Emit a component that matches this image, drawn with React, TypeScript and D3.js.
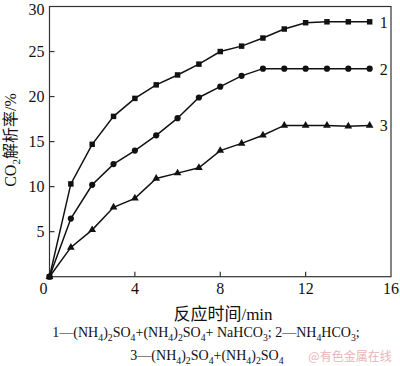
import * as d3 from 'd3';

const times = [0, 1, 2, 3, 4, 5, 6, 7, 8, 9, 10, 11, 12, 13, 14, 15];
const series1 = [0, 10.3, 14.7, 17.8, 19.8, 21.3, 22.4, 23.6, 25.0, 25.6, 26.5, 27.5, 28.2, 28.3, 28.3, 28.3];
const series2 = [0, 6.45, 10.2, 12.5, 14.0, 15.7, 17.6, 19.9, 21.1, 22.3, 23.1, 23.1, 23.1, 23.1, 23.1, 23.1];
const series3 = [0, 3.25, 5.2, 7.7, 8.7, 10.9, 11.5, 12.1, 14.0, 14.8, 15.7, 16.8, 16.8, 16.8, 16.7, 16.8];
const seriesNames = ['1', '2', '3'];
const xTicks = [4, 8, 12, 16];
const yTicks = [5, 10, 15, 20, 25, 30];
const caption1 = '1—(NH_4)_2SO_4+(NH_4)_2SO_4+ NaHCO_3; 2—NH_4HCO_3;';
const caption2 = '3—(NH_4)_2SO_4+(NH_4)_2SO_4';

const W = 400;
const H = 366;
const serif = '"Liberation Serif", "Times New Roman", "Noto Sans CJK SC", serif';

// turn "_4" into subscripted tspans
const withSubs = (s: string, size: number) => {
  const parts = s.split(/_(\d)/);
  const out: JSX.Element[] = [];
  let shifted = false;
  parts.forEach((p, i) => {
    if (i % 2 === 1) {
      out.push(
        <tspan key={i} fontSize={size * 0.7} dy={size * 0.25}>
          {p}
        </tspan>
      );
      shifted = true;
    } else if (p.length) {
      out.push(
        <tspan key={i} dy={shifted ? -size * 0.25 : 0}>
          {p}
        </tspan>
      );
      shifted = false;
    }
  });
  return out;
};

export default function App() {
  const x = d3.scaleLinear().domain([0, 16]).range([49.5, 391]);
  const y = d3.scaleLinear().domain([0, 30]).range([276.7, 6.5]);

  const all = [series1, series2, series3];
  const line = d3
    .line<number>()
    .x((_, i) => x(times[i]))
    .y((d) => y(d));

  const symbols = [
    d3.symbol().type(d3.symbolSquare).size(30)(),
    d3.symbol().type(d3.symbolCircle).size(30)(),
    d3.symbol().type(d3.symbolTriangle).size(26)(),
  ];

  return (
    <svg width={W} height={H} style={{ position: 'absolute', left: 0, top: 0, background: '#fff' }}>
      <rect x={0} y={0} width={W} height={H} fill="#fff" />
      {/* frame */}
      <rect
        x={x(0)}
        y={y(30)}
        width={x(16) - x(0)}
        height={y(0) - y(30)}
        fill="none"
        stroke="#333"
        strokeWidth={1.2}
      />
      {/* ticks */}
      {xTicks.slice(0, 3).map((t) => (
        <line key={t} x1={x(t)} x2={x(t)} y1={y(0)} y2={y(0) - 5} stroke="#333" strokeWidth={1.2} />
      ))}
      {yTicks.slice(0, 5).map((t) => (
        <line key={t} x1={x(0)} x2={x(0) + 5} y1={y(t)} y2={y(t)} stroke="#333" strokeWidth={1.2} />
      ))}
      {/* tick labels */}
      <g fontFamily={serif} fontSize={16} fill="#111">
        {xTicks.map((t) => (
          <text key={t} x={x(t)} y={y(0) + 17} textAnchor="middle">
            {t}
          </text>
        ))}
        <text x={x(0) - 6} y={y(0) + 17} textAnchor="middle">
          0
        </text>
        {yTicks.map((t) => (
          <text key={t} x={x(0) - 5} y={Math.max(y(t) + 5.5, 14.5)} textAnchor="end">
            {t}
          </text>
        ))}
      </g>
      {/* series */}
      {all.map((s, k) => (
        <g key={k}>
          <path d={line(s) || ''} fill="none" stroke="#111" strokeWidth={1.5} />
          {s.map((v, i) => (
            <path key={i} d={symbols[k] || ''} transform={`translate(${x(times[i])},${y(v)})`} fill="#111" />
          ))}
          <text
            x={x(15) + 10}
            y={y(s[s.length - 1]) + 6}
            fontFamily={serif}
            fontSize={16}
            fill="#111"
          >
            {seriesNames[k]}
          </text>
        </g>
      ))}
      {/* axis titles */}
      <text x={223} y={320} textAnchor="middle" fontFamily={serif} fontSize={17} fill="#111">
        反应时间/min
      </text>
      <text
        transform={`translate(16,${140}) rotate(-90)`}
        textAnchor="middle"
        fontFamily={serif}
        fontSize={16}
        fill="#111"
      >
        {withSubs('CO_2解析率/%', 16)}
      </text>
      {/* caption */}
      <text x={206} y={337} textAnchor="middle" fontFamily={serif} fontSize={14} fill="#111">
        {withSubs(caption1, 14)}
      </text>
      <text x={207} y={360} textAnchor="middle" fontFamily={serif} fontSize={14} fill="#111">
        {withSubs(caption2, 14)}
      </text>
      <text x={350} y={361} textAnchor="middle" fontFamily='"Noto Sans CJK SC", sans-serif' fontSize={12} fill="#eab4b8">
        @有色金属在线
      </text>
    </svg>
  );
}
